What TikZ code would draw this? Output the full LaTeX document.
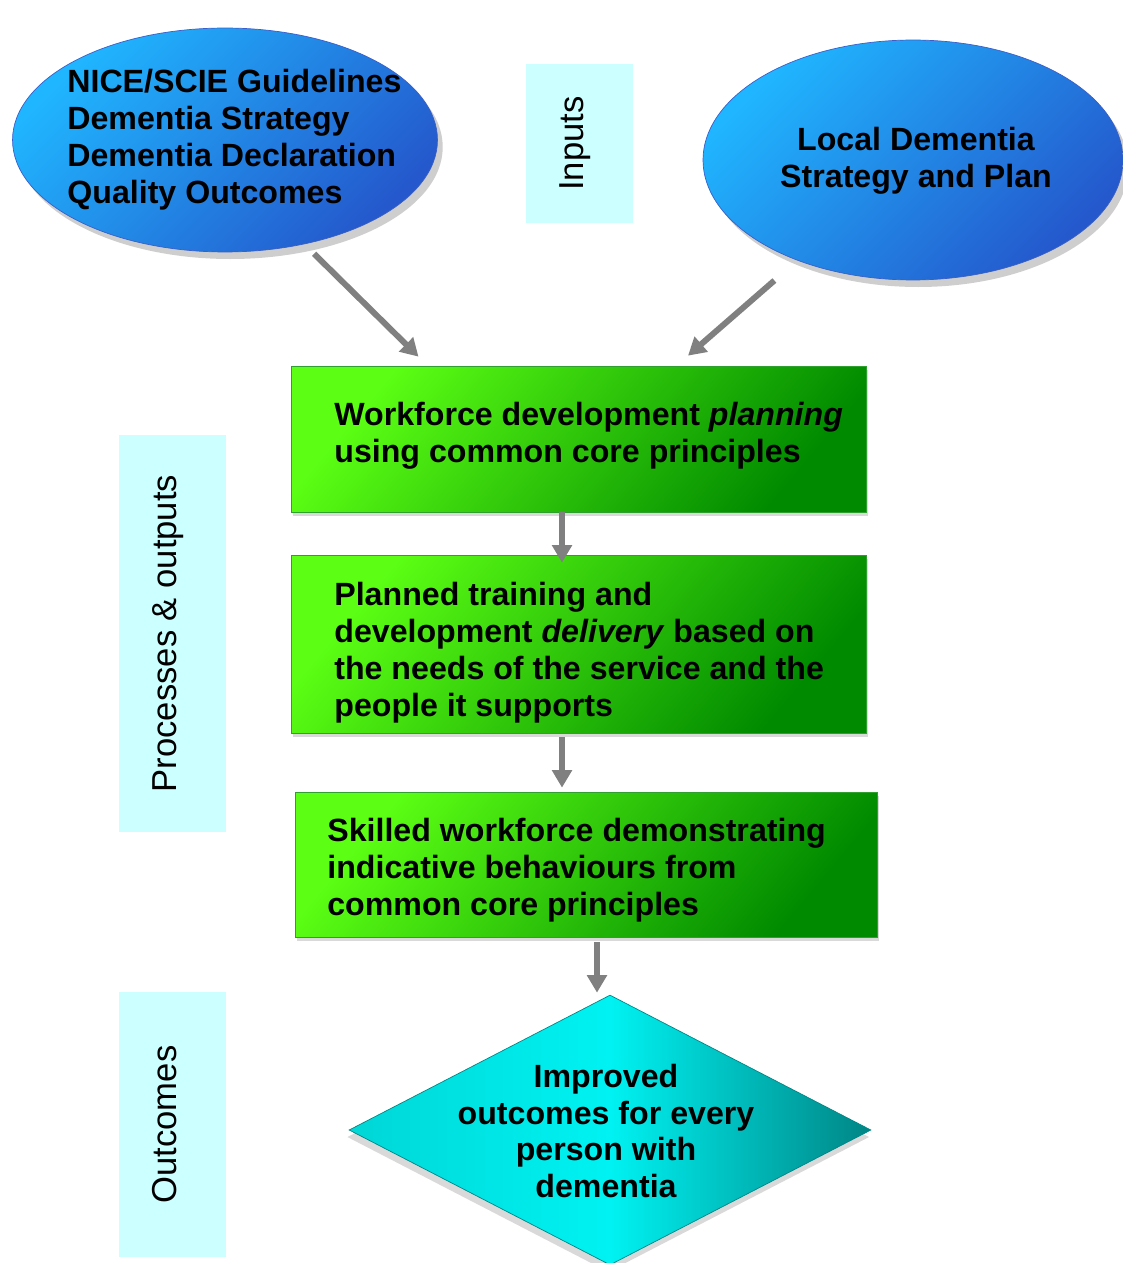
\documentclass[tikz,border=0pt]{standalone}
\usepackage{fontspec}
\setmainfont{Liberation Sans}
\usepackage{xcolor}
\usetikzlibrary{shapes.geometric,arrows.meta,shadows}

\definecolor{sideFill}{HTML}{CCFFFF}
\definecolor{blueTop}{HTML}{20B6FF}
\definecolor{blueBot}{HTML}{2458CC}
\definecolor{blueLine}{HTML}{3A5FC8}
\definecolor{greenTop}{HTML}{5CFF14}
\definecolor{greenBot}{HTML}{008A00}
\definecolor{greenLine}{HTML}{2FA02F}
\definecolor{cyanEdge}{HTML}{00D6D6}
\definecolor{cyanMid}{HTML}{00F2F2}
\definecolor{tealDark}{HTML}{008585}
\definecolor{arrowGrey}{HTML}{808080}

\tikzset{
  bigtext/.style={font=\fontsize{18.3}{21}\selectfont\bfseries, inner sep=0pt, text=black},
  sidetext/.style={font=\fontsize{19.7}{23}\selectfont, rotate=90, fill=sideFill, inner sep=0pt,
    text height=14pt, text depth=9pt},
  source/.style={ellipse, draw=blueLine, thin, top color=blueTop, bottom color=blueBot, shading angle=45,
    drop shadow={shadow xshift=3pt, shadow yshift=-4pt, opacity=.35, fill=black!55}},
  stage/.style={rectangle, draw=greenLine, thin, top color=greenTop, bottom color=greenBot, shading angle=50,
    drop shadow={shadow xshift=1pt, shadow yshift=-2pt, opacity=.3, fill=black!50}},
  goal/.style={diamond, draw=tealDark, thin, left color=cyanEdge, right color=tealDark, middle color=cyanMid,
    drop shadow={shadow xshift=-1pt, shadow yshift=-4pt, opacity=.3, fill=black!50}},
  flow/.style={draw=arrowGrey, line width=3.4pt, -{Triangle[length=10pt,width=11pt]}}
}

\begin{document}
\begin{tikzpicture}[x=0.02cm, y=-0.02cm]
  \useasboundingbox (0,0) rectangle (1122,1263);

  % Inputs
  \node[source, minimum width=8.5cm, minimum height=4.48cm] (guide) at (225,140) {};
  \node[bigtext, align=left, anchor=west] (guideText) at (67,140)
    {NICE/SCIE Guidelines\\Dementia Strategy\\Dementia Declaration\\Quality Outcomes};
  \node[source, minimum width=8.4cm, minimum height=4.8cm] (local) at (913,160) {};
  \node[bigtext, align=center] (localText) at (916,161) {Local Dementia\\Strategy and Plan};

  % Side labels
  \node[sidetext, minimum width=3.18cm, minimum height=2.14cm] (inputs) at (579.5,143.5) {Inputs};
  \node[sidetext, minimum width=7.94cm, minimum height=2.14cm] (procs) at (172.5,633.5) {Processes \& outputs};
  \node[sidetext, minimum width=5.3cm, minimum height=2.14cm] (outc) at (172.5,1124.5) {Outcomes};

  % Processes
  \node[stage, minimum width=11.5cm, minimum height=2.92cm] (plan) at (578.5,439) {};
  \node[bigtext, align=left, anchor=west] (planText) at (334,436)
    {Workforce development \textit{planning}\\using common core principles};
  \node[stage, minimum width=11.5cm, minimum height=3.56cm] (deliver) at (578.5,644) {};
  \node[bigtext, align=left, anchor=west] (deliverText) at (334,653)
    {Planned training and\\development \textit{delivery} based on\\the needs of the service and the\\people it supports};
  \node[stage, minimum width=11.64cm, minimum height=2.9cm] (skill) at (586,864.5) {};
  \node[bigtext, align=left, anchor=west] (skillText) at (327,870)
    {Skilled workforce demonstrating\\indicative behaviours from\\common core principles};

  % Outcome
  \node[goal, minimum width=10.44cm, minimum height=5.4cm] (outcome) at (610,1130) {};
  \node[bigtext, align=center] (outcomeText) at (606,1131)
    {Improved\\outcomes for every\\person with\\dementia};

  % Arrows
  \draw[flow] ([shift={(8,10)}]guide.-52) -- ([shift={(-160,-9)}]plan.north);
  \draw[flow] ([shift={(-23,20)}]local.-139) -- ([shift={(109.5,-10)}]plan.north);
  \draw[flow] ([shift={(-16.5,0)}]plan.south) -- ([shift={(-16.5,8)}]deliver.north);
  \draw[flow] ([shift={(-16.5,4)}]deliver.south) -- ([shift={(-24,-4)}]skill.north);
  \draw[flow] ([shift={(11,5)}]skill.south) -- ([shift={(-13,-2)}]outcome.north);
\end{tikzpicture}
\end{document}
